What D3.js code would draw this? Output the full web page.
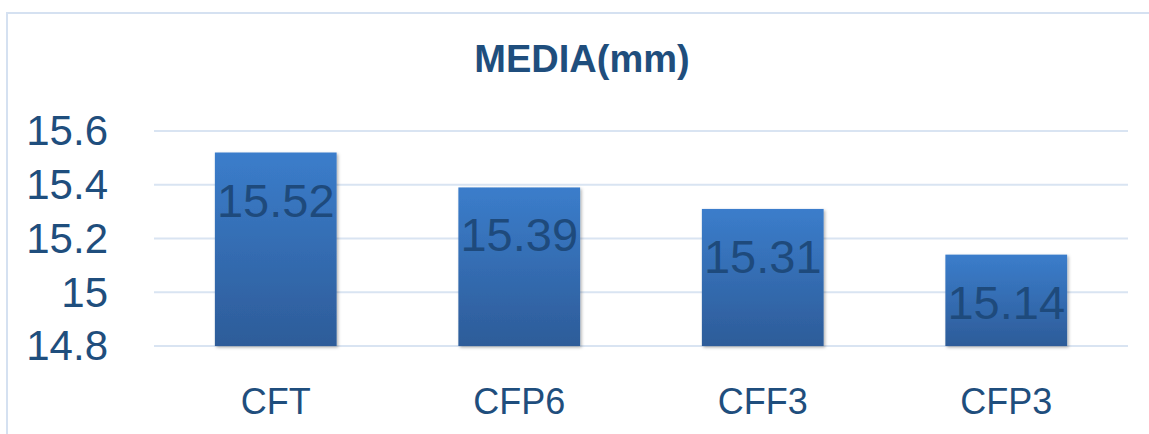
<!DOCTYPE html>
<html>
<head>
<meta charset="utf-8">
<script src="https://cdn.jsdelivr.net/npm/d3@7"></script>
<style>
  html, body { margin: 0; padding: 0; background: #fff; }
  svg { display: block; }
</style>
</head>
<body>
<svg id="chart" width="1149" height="434"></svg>
<script>
const categories = ["CFT", "CFP6", "CFF3", "CFP3"];
const values = [15.52, 15.39, 15.31, 15.14];
const yTicks = [14.8, 15, 15.2, 15.4, 15.6];
const title = "MEDIA(mm)";

const W = 1149, H = 434;
const margin = { left: 154, right: 21, top: 131, bottom: 88 };
const svg = d3.select("#chart");

const defs = svg.append("defs");
const grad = defs.append("linearGradient")
  .attr("id", "barGrad").attr("x1", 0).attr("y1", 0).attr("x2", 0).attr("y2", 1);
grad.append("stop").attr("offset", "0%").attr("stop-color", "#3b7dcb");
grad.append("stop").attr("offset", "100%").attr("stop-color", "#2d5c99");
const filt = defs.append("filter").attr("id", "shadow")
  .attr("x", "-10%").attr("y", "-10%").attr("width", "130%").attr("height", "130%");
filt.append("feDropShadow").attr("dx", 1.5).attr("dy", 1.5).attr("stdDeviation", 1.5)
  .attr("flood-color", "#000").attr("flood-opacity", 0.3);

// outer chart border
svg.append("rect")
  .attr("x", 7).attr("y", 13).attr("width", 1160).attr("height", 440)
  .attr("fill", "none").attr("stroke", "#d5e1f1").attr("stroke-width", 2);

const x = d3.scaleBand()
  .domain(categories)
  .range([margin.left, W - margin.right])
  .paddingInner(0.5).paddingOuter(0.25);

const y = d3.scaleLinear()
  .domain([14.8, 15.6])
  .range([H - margin.bottom, margin.top]);

// gridlines
svg.append("g").selectAll("line").data(yTicks).join("line")
  .attr("x1", margin.left).attr("x2", W - margin.right)
  .attr("y1", d => y(d)).attr("y2", d => y(d))
  .attr("stroke", "#d9e4f2").attr("stroke-width", 2);

// y axis labels
const yAxis = svg.append("g")
  .attr("transform", `translate(${108},0)`)
  .call(d3.axisLeft(y).tickValues(yTicks).tickSize(0).tickPadding(0).tickFormat(d => String(d)));
yAxis.select(".domain").remove();
yAxis.selectAll("text")
  .attr("x", 0).attr("dy", "0.33em")
  .attr("font-family", "Liberation Sans, Arial, sans-serif")
  .attr("font-size", 42).attr("fill", "#1f4e7d").attr("text-anchor", "end");

// x axis labels
const xAxis = svg.append("g")
  .attr("transform", `translate(0,${414})`)
  .call(d3.axisBottom(x).tickSize(0).tickPadding(0));
xAxis.select(".domain").remove();
xAxis.selectAll("text")
  .attr("y", 0).attr("dy", 0)
  .attr("font-family", "Liberation Sans, Arial, sans-serif")
  .attr("font-size", 36).attr("fill", "#1f4e7d");

// bars
svg.append("g").selectAll("rect").data(values).join("rect")
  .attr("x", (d, i) => x(categories[i]))
  .attr("y", d => y(d))
  .attr("width", x.bandwidth())
  .attr("height", d => y(14.8) - y(d))
  .attr("fill", "url(#barGrad)")
  .attr("filter", "url(#shadow)");

// bar value labels
svg.append("g").selectAll("text").data(values).join("text")
  .attr("x", (d, i) => x(categories[i]) + x.bandwidth() / 2)
  .attr("y", d => y(d) + 64)
  .attr("text-anchor", "middle")
  .attr("font-family", "Liberation Sans, Arial, sans-serif")
  .attr("font-size", 47)
  .attr("fill", "#1e4a7c")
  .text(d => d.toFixed(2));

// title
svg.append("text")
  .attr("x", 582).attr("y", 72)
  .attr("text-anchor", "middle")
  .attr("font-family", "Liberation Sans, Arial, sans-serif")
  .attr("font-weight", "bold")
  .attr("font-size", 38)
  .attr("fill", "#1f4e7d")
  .text(title);
</script>
</body>
</html>
